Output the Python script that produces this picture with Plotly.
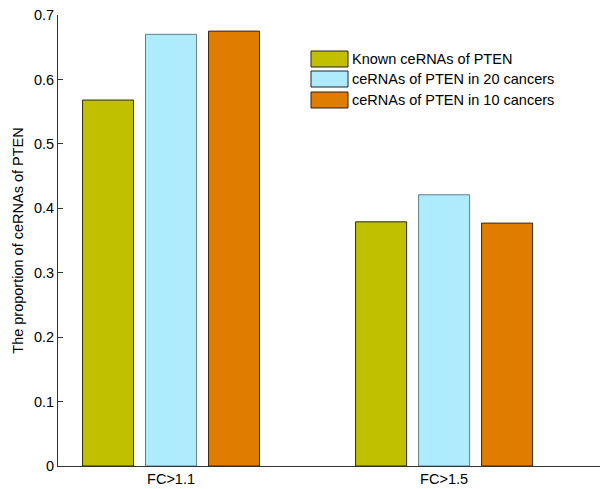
import plotly.graph_objects as go

categories = ["FC>1.1", "FC>1.5"]
series_names = [
    "Known ceRNAs of PTEN",
    "ceRNAs of PTEN in 20 cancers",
    "ceRNAs of PTEN in 10 cancers",
]
known_vals = [0.568, 0.379]
cancers20_vals = [0.670, 0.421]
cancers10_vals = [0.675, 0.377]

fill_colors = ["#C0C000", "#AEEBFD", "#E07C00"]
edge_colors = ["#2b2b10", "#607f8a", "#3a2a10"]

positions = [1, 2]
series_vals = [known_vals, cancers20_vals, cancers10_vals]

fig = go.Figure()
for name, vals, fc, ec in zip(series_names, series_vals, fill_colors, edge_colors):
    fig.add_trace(go.Bar(
        x=positions, y=vals, name=name,
        marker=dict(color=fc, line=dict(color=ec, width=1)),
        showlegend=False,
    ))

# Legend drawn as large swatches with text, in paper coordinates
font = dict(family="Liberation Sans, Arial, sans-serif", size=14.5, color="#000")
plot_left, plot_top, plot_w, plot_h = 58, 15, 542, 451
rows_y = [59, 79, 100]
for name, fc, ec, ry in zip(series_names, fill_colors, edge_colors, rows_y):
    x0 = (311 - plot_left) / plot_w
    x1 = (348 - plot_left) / plot_w
    y0 = 1 - (ry - 8 - plot_top) / plot_h
    y1 = 1 - (ry + 8 - plot_top) / plot_h
    fig.add_shape(type="rect", xref="paper", yref="paper",
                  x0=x0, x1=x1, y0=y0, y1=y1,
                  fillcolor=fc, line=dict(color="#222", width=1))
    fig.add_annotation(xref="paper", yref="paper",
                       x=(350 - plot_left) / plot_w, y=1 - (ry - plot_top) / plot_h,
                       text=name, showarrow=False, xanchor="left", yanchor="middle",
                       font=font)

fig.update_layout(
    width=601, height=489,
    margin=dict(l=58, r=1, t=15, b=23),
    paper_bgcolor="white", plot_bgcolor="white",
    barmode="group", bargap=0.308, bargroupgap=0.19,
    font=font,
)
fig.update_xaxes(
    range=[0.586, 2.571], tickvals=positions, ticktext=categories,
    showline=True, linecolor="#333", linewidth=1, ticks="",
    showgrid=False, zeroline=False, automargin=False, tickfont=font,
)
fig.update_yaxes(
    range=[0, 0.7], dtick=0.1, tick0=0,
    showline=True, linecolor="#333", linewidth=1,
    ticks="inside", ticklen=5, tickcolor="#333",
    showgrid=False, zeroline=False, automargin=False, tickfont=font,
    title=dict(text="The proportion of ceRNAs of PTEN", font=font, standoff=6),
)

fig.write_html("out.html")
